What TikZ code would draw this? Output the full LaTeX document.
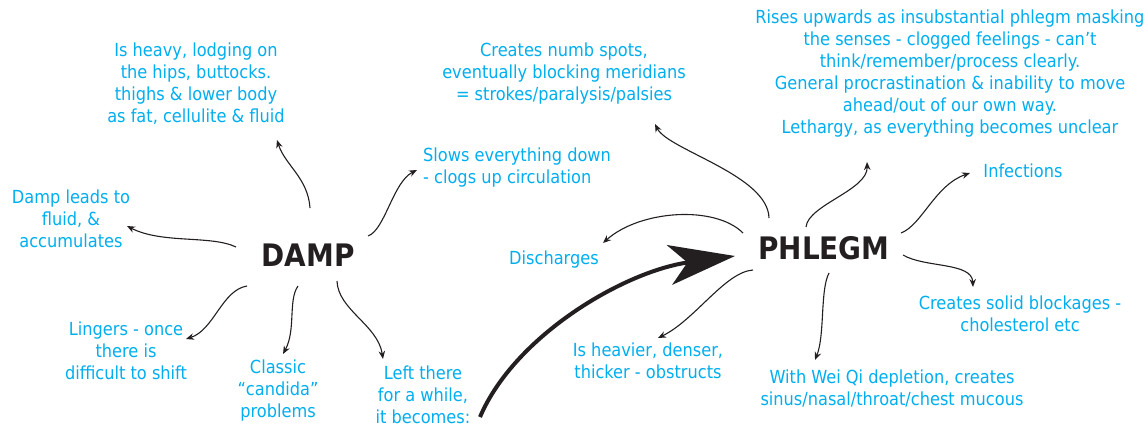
\documentclass[tikz,border=0pt]{standalone}
\usepackage{fontspec}
\setmainfont{DejaVu Sans Condensed}
\usetikzlibrary{arrows.meta}
\definecolor{notecyan}{RGB}{0,174,239}
\definecolor{inkblack}{RGB}{35,31,32}
\begin{document}
\begin{tikzpicture}[x=1pt, y=-1pt,
  note/.style={text=notecyan, align=center, inner sep=0pt, font=\fontsize{18}{22}\selectfont},
  hub/.style={text=inkblack, inner sep=0pt, font=\fontsize{31}{35}\selectfont\bfseries},
  link/.style={draw=inkblack, line width=1.1pt, -{Stealth[length=8pt,width=6.5pt]}},
  bigarrow/.style={draw=inkblack, line width=4pt, -{Stealth[length=66pt,width=40pt,inset=18pt]}}]
\useasboundingbox (0,0) rectangle (1148,425);
% the two hubs
\node[hub] (damp) at (308,255) {DAMP};
\node[hub] (phlegm) at (824,248) {PHLEGM};
% damp notes
\node[note] (heavy) at (196,84) {Is heavy, lodging on\\the hips, buttocks.\\thighs \& lower body\\as fat, cellulite \& fluid};
\node[note] (fluid) at (71,219) {Damp leads to\\fluid, \&\\accumulates};
\node[note] (lingers) at (126,351) {Lingers - once\\there is\\difficult to shift};
\node[note] (candida) at (278,391) {Classic\\“candida”\\problems};
\node[note] (while) at (423,395) {Left there\\for a while,\\it becomes:};
\node[note, align=left, anchor=west] (slows) at (423,168) {Slows everything down\\- clogs up circulation};
% phlegm notes
\node[note] (numb) at (564,74) {Creates numb spots,\\eventually blocking meridians\\= strokes/paralysis/palsies};
\node[note] (rises) at (950,74) {Rises upwards as insubstantial phlegm masking\\the senses - clogged feelings - can’t\\think/remember/process clearly.\\General procrastination \& inability to move\\ahead/out of our own way.\\Lethargy, as everything becomes unclear};
\node[note] (infections) at (1023,171) {Infections};
\node[note] (discharges) at (554,260) {Discharges};
\node[note] (solid) at (1020,314) {Creates solid blockages -\\cholesterol etc};
\node[note] (weiqi) at (892,388) {With Wei Qi depletion, creates\\sinus/nasal/throat/chest mucous};
\node[note] (heavier) at (648,361) {Is heavier, denser,\\thicker - obstructs};
% damp links
\draw[link] ([shift={(2,-47)}]damp.center) .. controls +(-2,-30) and +(8,25) .. ([shift={(81,56)}]heavy.center);
\draw[link] ([shift={(-72,-8)}]damp.center) .. controls +(-25,-12) and +(35,18) .. ([shift={(56,7)}]fluid.center);
\draw[link] ([shift={(-61,31)}]damp.center) .. controls +(-25,4) and +(28,-9) .. ([shift={(60,-12)}]lingers.center);
\draw[link] ([shift={(-10,31)}]damp.center) .. controls +(-10,14) and +(13,-24) .. ([shift={(5,-37)}]candida.center);
\draw[link] ([shift={(29,26)}]damp.center) .. controls +(1,29) and +(-5,-34) .. ([shift={(-40,-36)}]while.center);
\draw[link] ([shift={(60,-19)}]damp.center) .. controls +(17,-6) and +(-24,12) .. ([shift={(-6,2)}]slows.west);
% damp becomes phlegm
\draw[bigarrow] ([shift={(57,22)}]while.center) .. controls +(35,-82) and +(-110,15) .. ([shift={(-89,8)}]phlegm.center);
% phlegm links
\draw[link] ([shift={(-55,-30)}]phlegm.center) .. controls +(-1,-43) and +(13,26) .. ([shift={(91,50)}]numb.center);
\draw[link] ([shift={(-81,-15)}]phlegm.center) .. controls +(-28,-28) and +(37,-33) .. ([shift={(49,-17)}]discharges.center);
\draw[link] ([shift={(-71,22)}]phlegm.center) .. controls +(-28,2) and +(37,-18) .. ([shift={(10,-23)}]heavier.center);
\draw[link] ([shift={(5,25)}]phlegm.center) .. controls +(-9,17) and +(10,-25) .. ([shift={(-77,-28)}]weiqi.center);
\draw[link] ([shift={(79,7)}]phlegm.center) .. controls +(22,13) and +(-1,-25) .. ([shift={(-47,-27)}]solid.center);
\draw[link] ([shift={(77,-15)}]phlegm.center) .. controls +(21,-8) and +(-35,12) .. ([shift={(-53,2)}]infections.center);
\draw[link] ([shift={(-18,-21)}]phlegm.center) .. controls +(2,-22) and +(1,28) .. ([shift={(-83,88)}]rises.center);
\end{tikzpicture}
\end{document}
